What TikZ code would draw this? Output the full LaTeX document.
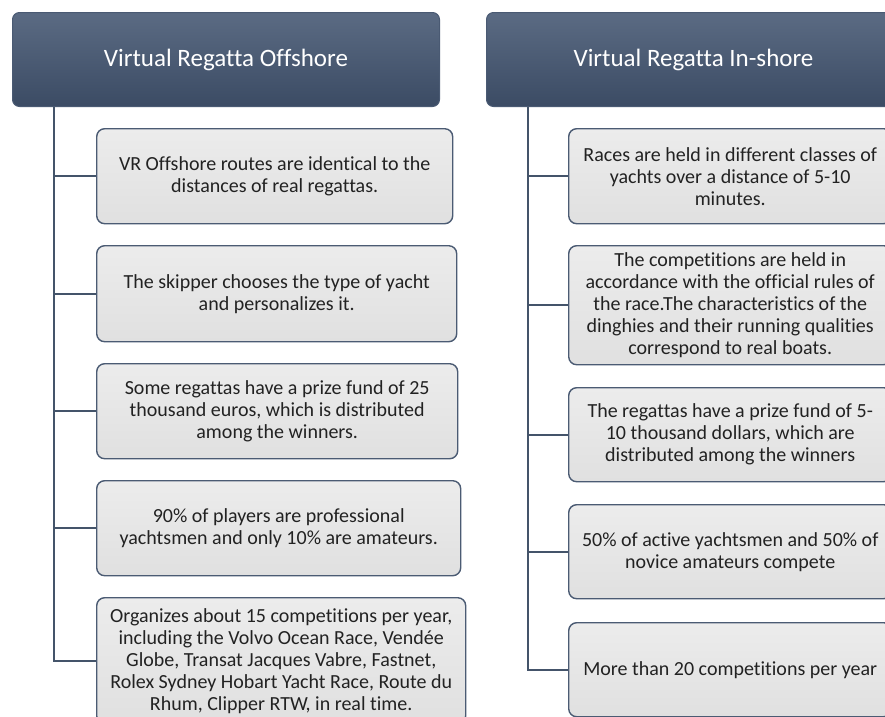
\documentclass[tikz,border=0pt]{standalone}
\usepackage{fontspec}
\setmainfont{Carlito}[Ligatures=NoCommon]
\usetikzlibrary{positioning}
\definecolor{headtop}{HTML}{5B6B83}
\definecolor{headbottom}{HTML}{3B4B64}
\definecolor{headrim}{HTML}{4A5A73}
\definecolor{itemtop}{HTML}{ECECEC}
\definecolor{itembottom}{HTML}{E0E0E0}
\definecolor{itemrim}{HTML}{4B5B73}
\definecolor{branchcol}{HTML}{44546A}
\definecolor{itemtext}{HTML}{222222}
\tikzset{
    header/.style = {
      anchor=north west, rounded corners=7pt, inner sep=0,
      top color=headtop, bottom color=headbottom, draw=headrim, line width=1pt,
      text=white, font=\fontsize{25}{30}\selectfont,
    },
    item/.style = {
      anchor=north west, rounded corners=8pt, inner sep=0, align=center,
      top color=itemtop, bottom color=itembottom, draw=itemrim, line width=1.4pt,
      text=itemtext, font=\fontsize{20}{22}\selectfont,
    },
    branch/.style = {
      draw=branchcol, line width=2pt,
    },
}

\begin{document}
\begin{tikzpicture}[x=1pt, y=-1pt]
    \useasboundingbox (0,0) rectangle (885,716);
    \clip (0,0) rectangle (885,716);

    %% Two headers
    \node [header, minimum width=427pt, minimum height=94pt] (off) at (12,12) {Virtual Regatta Offshore};
    \node [header, minimum width=414pt, minimum height=94pt] (ins) at (486,12) {Virtual Regatta In-shore};

    %% Offshore items
    \node [item, minimum width=356pt, minimum height=95pt] (off1) at (96,128)
      {VR Offshore routes are identical to the\\distances of real regattas.};
    \node [item, minimum width=360pt, minimum height=96pt] (off2) at (96,245)
      {The skipper chooses the type of yacht\\and personalizes it.};
    \node [item, minimum width=361pt, minimum height=95pt] (off3) at (96,363)
      {Some regattas have a prize fund of 25\\thousand euros, which is distributed\\among the winners.};
    \node [item, minimum width=364pt, minimum height=95pt] (off4) at (96,480)
      {90\% of players are professional\\yachtsmen and only 10\% are amateurs.};
    \node [item, minimum width=369pt, minimum height=126pt] (off5) at (96,597)
      {Organizes about 15 competitions per year,\\including the Volvo Ocean Race, Vendée\\Globe, Transat Jacques Vabre, Fastnet,\\Rolex Sydney Hobart Yacht Race, Route du\\Rhum, Clipper RTW, in real time.};

    %% In-shore items
    \node [item, minimum width=323pt, minimum height=95pt] (ins1) at (568,128)
      {Races are held in different classes of\\yachts over a distance of 5-10\\minutes.};
    \node [item, minimum width=323pt, minimum height=119pt] (ins2) at (568,245)
      {The competitions are held in\\accordance with the official rules of\\the race.The characteristics of the\\dinghies and their running qualities\\correspond to real boats.};
    \node [item, minimum width=323pt, minimum height=94pt] (ins3) at (568,387)
      {The regattas have a prize fund of 5-\\10 thousand dollars, which are\\distributed among the winners};
    \node [item, minimum width=323pt, minimum height=94pt] (ins4) at (568,504)
      {50\% of active yachtsmen and 50\% of\\novice amateurs compete};
    \node [item, minimum width=323pt, minimum height=94pt] (ins5) at (568,622)
      {More than 20 competitions per year};

    %% Branches from each header down to its items
    \coordinate (offroot) at ([xshift=42pt] off.south west);
    \coordinate (insroot) at ([xshift=42pt] ins.south west);
    \draw [branch] (offroot) |- (off5.west);
    \draw [branch] (insroot) |- (ins5.west);
    \foreach \i in {1,...,4}{%
      \draw [branch] (offroot |- off\i.west) -- (off\i.west);
      \draw [branch] (insroot |- ins\i.west) -- (ins\i.west);
    }
\end{tikzpicture}
\end{document}
